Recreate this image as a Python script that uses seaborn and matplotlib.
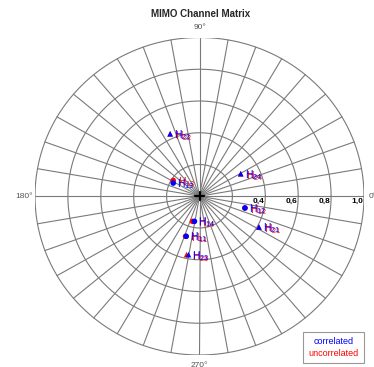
import numpy as np
import pandas as pd
import matplotlib
matplotlib.use("Agg")
import matplotlib.pyplot as plt
import seaborn as sns
from matplotlib.lines import Line2D

sns.set_style("white")
plt.rcParams["font.family"] = ["Liberation Sans", "DejaVu Sans"]
plt.rcParams["mathtext.fontset"] = "custom"
plt.rcParams["mathtext.rm"] = "Liberation Sans"

# Channel matrix entries (magnitude, phase in degrees)
entries = ["H11", "H12", "H13", "H14", "H21", "H22", "H23", "H24"]
corr_mag = [0.265, 0.286, 0.180, 0.161, 0.410, 0.432, 0.374, 0.288]
corr_phase = [-107.7, -15.0, 152.6, -100.9, -28.2, 114.4, -100.3, 29.5]
uncorr_mag = [0.266, 0.286, 0.188, 0.164, 0.410, 0.432, 0.376, 0.288]
uncorr_phase = [-108.6, -15.0, 148.2, -105.0, -28.2, 114.4, -102.1, 29.5]

# Polar grid
ring_radii = [0.2, 0.4, 0.6, 0.8, 1.0]
ring_labels = ["", "0,4", "0,6", "0,8", "1,0"]
spoke_angles = np.arange(0, 360, 10)
angle_labels = {0: "0°", 90: "90°", 180: "180°", 270: "270°"}

W, H = 374, 367
fig = plt.figure(figsize=(W / 100, H / 100), dpi=100)
ax = fig.add_axes([35 / W, 12 / H, 329 / W, 317.5 / H])
ax.set_xlim(-1, 1)
ax.set_ylim(-1, 1)
ax.axis("off")

grid_col = "#7a7a7a"
t = np.linspace(0, 2 * np.pi, 361)
for r in ring_radii:
    ax.plot(r * np.cos(t), r * np.sin(t), color=grid_col, lw=0.8, zorder=1)
for a in spoke_angles:
    th = np.deg2rad(a)
    ax.plot([0, np.cos(th)], [0, np.sin(th)], color=grid_col, lw=0.8, zorder=1)
# dark hub where the spokes meet
ax.plot([-0.025, 0.025], [0, 0], color="black", lw=1.6, zorder=2)
ax.plot([0, 0], [-0.026, 0.026], color="black", lw=1.6, zorder=2)

for r, lab in zip(ring_radii, ring_labels):
    if lab:
        ax.annotate(lab, (r, 0), xytext=(-1, -2), textcoords="offset pixels",
                    ha="right", va="top", fontsize=6, fontweight="bold",
                    color="black", zorder=3)

ax.text(0, 1.06, angle_labels[90], ha="center", va="center", fontsize=6,
        color="#555555", clip_on=False)
ax.text(0, -1.065, angle_labels[270], ha="center", va="center", fontsize=6,
        color="#555555", clip_on=False)
ax.text(-1.015, 0, angle_labels[180], ha="right", va="center", fontsize=6,
        color="#555555", clip_on=False)
ax.text(1.03, 0, angle_labels[0], ha="left", va="center", fontsize=6,
        color="#555555", clip_on=False)


def to_frame(mag, phase, kind):
    th = np.deg2rad(phase)
    return pd.DataFrame({
        "x": np.asarray(mag) * np.cos(th),
        "y": np.asarray(mag) * np.sin(th),
        "entry": entries,
        "row": [e[1] for e in entries],
        "kind": kind,
    })


df_u = to_frame(uncorr_mag, uncorr_phase, "uncorrelated")
df_c = to_frame(corr_mag, corr_phase, "correlated")
markers = {"1": "o", "2": "^"}

for df, col, shift in [(df_u, "red", (5, -2)), (df_c, "blue", (4, -1))]:
    sns.scatterplot(data=df, x="x", y="y", style="row", markers=markers,
                    color=col, s=16, edgecolor="none", legend=False, ax=ax,
                    zorder=4)
    for _, rw in df.iterrows():
        ax.annotate(r"$\mathrm{H}_{%s}$" % rw["entry"][1:], (rw["x"], rw["y"]),
                    xytext=shift, textcoords="offset pixels", ha="left",
                    va="center", fontsize=7.5, color=col, zorder=5)

ax.set_xlabel("")
ax.set_ylabel("")

fig.text(201 / W, 1 - 14 / H, "MIMO Channel Matrix", ha="center", va="center",
         fontsize=7, fontweight="bold")

handles = [Line2D([], [], linestyle="none") for _ in range(2)]
leg = fig.legend(handles, ["correlated", "uncorrelated"],
                 loc="lower right", bbox_to_anchor=(364 / W, 4 / H),
                 borderaxespad=0, fontsize=6.5, labelcolor=["blue", "red"],
                 handlelength=0, handletextpad=0, frameon=True, fancybox=False,
                 borderpad=0.6, labelspacing=0.25)
leg.get_frame().set_edgecolor("#808080")
leg.get_frame().set_linewidth(0.8)
leg._legend_box.align = "center"
for box in leg._legend_box.get_children()[1].get_children():
    box.align = "center"

fig.savefig("out.png", dpi=100)
